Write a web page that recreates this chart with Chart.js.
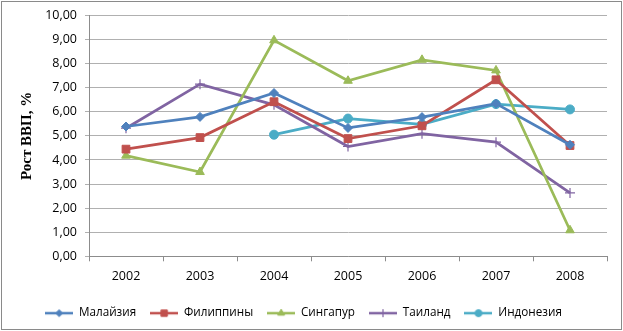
<!DOCTYPE html>
<html>
<head>
<meta charset="utf-8">
<script src="https://cdn.jsdelivr.net/npm/chart.js@4/dist/chart.umd.min.js"></script>
<style>
html,body{margin:0;padding:0;background:#fff;}
canvas{display:block;}
</style>
</head>
<body>
<canvas id="c" width="623" height="331"></canvas>
<script>
const years = ["2002","2003","2004","2005","2006","2007","2008"];
const malaysia    = [5.39, 5.79, 6.78, 5.33, 5.78, 6.34, 4.63];
const philippines = [4.45, 4.93, 6.42, 4.89, 5.42, 7.33, 4.60];
const singapore   = [4.18, 3.50, 8.97, 7.29, 8.16, 7.72, 1.08];
const thailand    = [5.32, 7.15, 6.29, 4.56, 5.09, 4.74, 2.63];
const indonesia   = [null, null, 5.05, 5.72, 5.48, 6.32, 6.10];
const seriesNames = ["Малайзия","Филиппины","Сингапур","Таиланд","Индонезия"];
const colors = ["#4F81BD","#C0504D","#9BBB59","#8064A2","#4BACC6"];
const markers = ["rectRot","rect","triangle","cross","circle"];
const radii = [4.5, 5.5, 5, 5, 4.5];
const legendRadii = [3.5, 4.5, 4, 4, 3.5];
const yTitle = "Рост ВВП, %";

const seriesData = [malaysia, philippines, singapore, thailand, indonesia];

function legendImage(i){
  const w = 28, h = 14;
  const cv = document.createElement('canvas');
  cv.width = w; cv.height = h;
  const ctx = cv.getContext('2d');
  ctx.strokeStyle = colors[i];
  ctx.lineWidth = 2.5;
  ctx.beginPath(); ctx.moveTo(0, h/2); ctx.lineTo(w, h/2); ctx.stroke();
  ctx.fillStyle = colors[i];
  ctx.strokeStyle = colors[i];
  ctx.lineWidth = markers[i] === 'cross' ? 1.2 : 1;
  Chart.helpers.drawPoint(ctx, {pointStyle: markers[i], radius: legendRadii[i], rotation: 0, borderWidth: 1}, w/2, h/2);
  return cv;
}

const borderPlugin = {
  id: 'outerBorder',
  afterDraw(chart){
    const ctx = chart.ctx;
    ctx.save();
    ctx.strokeStyle = '#8a8a8a';
    ctx.lineWidth = 1;
    ctx.strokeRect(1.5, 1.5, chart.width - 3, chart.height - 3);
    ctx.restore();
  }
};

const datasets = seriesNames.map((n, i) => ({
  label: n,
  data: seriesData[i],
  borderColor: colors[i],
  backgroundColor: colors[i],
  borderWidth: 2.75,
  pointStyle: markers[i],
  pointRadius: radii[i],
  pointBorderWidth: markers[i] === 'cross' ? 1.2 : 1,
  pointBackgroundColor: colors[i],
  pointBorderColor: colors[i],
  tension: 0,
  spanGaps: false
}));

const tickFont = {family: "'Open Sans', 'Noto Sans', sans-serif", size: 12.5};
const legendFont = {family: "'Open Sans', 'Noto Sans', sans-serif", size: 11.7};

new Chart(document.getElementById('c'), {
  type: 'line',
  data: {labels: years, datasets},
  plugins: [borderPlugin],
  options: {
    responsive: false,
    animation: false,
    devicePixelRatio: 1,
    layout: {padding: {top: 15, right: 16, bottom: 2, left: 0}},
    plugins: {
      tooltip: {enabled: false},
      legend: {
        position: 'bottom',
        labels: {
          font: legendFont,
          color: '#000',
          usePointStyle: true,
          pointStyleWidth: 28,
          padding: 14,
          generateLabels(chart){
            const items = Chart.defaults.plugins.legend.labels.generateLabels(chart);
            items.forEach((it, i) => { it.pointStyle = legendImage(i); });
            return items;
          }
        }
      }
    },
    scales: {
      x: {
        offset: true,
        afterFit(s){ s.height = 37; },
        grid: {display: true, offset: true, drawOnChartArea: false, drawTicks: true, tickLength: 5, color: '#8c8c8c'},
        border: {color: '#8c8c8c'},
        ticks: {font: tickFont, color: '#000', padding: 8, maxRotation: 0}
      },
      y: {
        min: 0, max: 10,
        afterFit(s){ s.width = 89; },
        grid: {color: '#b0b0b0', tickLength: 4, drawTicks: true},
        border: {color: '#8c8c8c'},
        ticks: {
          stepSize: 1, font: tickFont, color: '#000', padding: 8,
          callback: v => Number(v).toFixed(2).replace('.', ',')
        },
        title: {
          display: true, text: yTitle, color: '#000',
          font: {family: "'Liberation Serif', 'Times New Roman', serif", size: 15, weight: 'bold'},
          padding: {top: 18, bottom: 0}
        }
      }
    }
  }
});
</script>
</body>
</html>
